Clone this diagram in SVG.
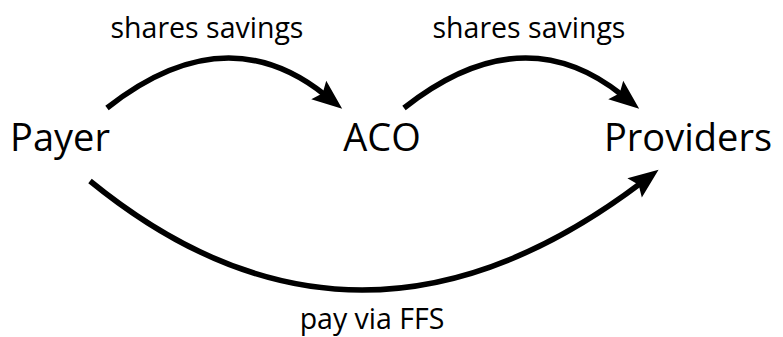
<svg xmlns="http://www.w3.org/2000/svg" width="783" height="337" viewBox="0 0 783 337">
<style>
.node{font-family:"Open Sans","Liberation Sans",sans-serif;font-size:38px;fill:#000;text-anchor:middle}
.lbl{font-family:"Open Sans","Liberation Sans",sans-serif;font-size:28.5px;fill:#000;text-anchor:middle}
.edge{fill:none;stroke:#000;stroke-width:5.5;marker-end:url(#ah)}
</style>
<defs>
<marker id="ah" markerUnits="userSpaceOnUse" markerWidth="40" markerHeight="40" viewBox="-10 -15 40 30" refX="0" refY="0" orient="auto">
<path d="M-8,-12 L22,0 L-8,12 L-3,0 z" fill="#000"/>
</marker>
</defs>
<rect width="783" height="337" fill="#fff"/>
<g id="connectors">
<path class="edge" d="M107,108 Q225,15 325,95"/>
<path class="edge" d="M404,108 Q522,15 622,95"/>
<path class="edge" d="M90,181 Q356,398 641,183"/>
</g>
<g id="edge-labels">
<text class="lbl" x="207" y="38">shares savings</text>
<text class="lbl" x="529" y="38">shares savings</text>
<text class="lbl" x="372" y="329">pay via FFS</text>
</g>
<g id="payer"><text class="node" x="60" y="151">Payer</text></g>
<g id="aco"><text class="node" x="382" y="151">ACO</text></g>
<g id="providers"><text class="node" x="688" y="151">Providers</text></g>
</svg>
